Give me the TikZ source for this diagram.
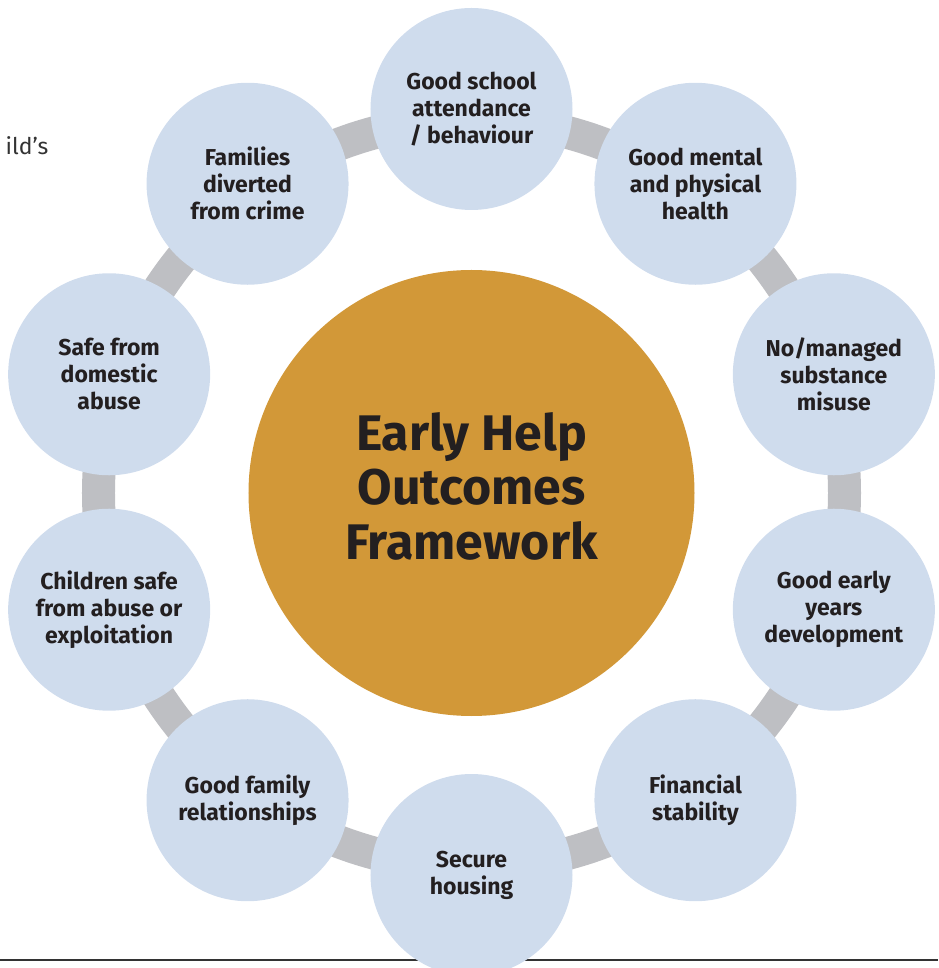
\documentclass[tikz,border=0pt]{standalone}
\usepackage{fontspec}
\setmainfont{Fira Sans}
\usepackage{tikz}
\usetikzlibrary{positioning}
\definecolor{outcome}{RGB}{207,220,237}
\definecolor{hub}{RGB}{210,152,56}
\definecolor{ringgrey}{RGB}{190,191,195}
\definecolor{inktext}{RGB}{35,31,32}
\tikzset{
  outcome/.style={circle,fill=outcome,minimum size=202pt,inner sep=0pt,align=center,
    text=inktext,font=\bfseries\fontsize{23}{27}\selectfont},
  hub/.style={circle,fill=hub,minimum size=446pt,inner sep=0pt},
  hubtext/.style={align=center,inner sep=0pt,text=inktext,font=\bfseries\fontsize{50}{54.5}\selectfont}
}

\begin{document}
\begin{tikzpicture}[x=1pt,y=1pt]
\useasboundingbox (-471.5,-476) rectangle (466.5,492);
%\node at (0,0) {centre of ring};
\draw[line width=2pt,color=black!80] (-471.5,-468) -- (466.5,-468);
\node[text=black!80,font=\fontsize{23}{27}\selectfont,anchor=east,inner sep=0pt] (cut) at (-423,346) {ild’s};

\node[hub] (frame) at (0,-1) {};
\node[hubtext] (title) at ([yshift=7pt]frame.center) {Early Help\\Outcomes\\Framework};
\draw[line width=33pt,draw=ringgrey] (frame.center) circle (373pt);

\node[outcome] (school) at (90:383) {Good school\\attendance\\/ behaviour};
\node[outcome] (mental) at (54:381) {Good mental\\and physical\\health};
\node[outcome] (substance) at (18:381) {No/managed\\substance\\misuse};
\node[outcome] (years) at (-18:381) {Good early\\years\\development};
\node[outcome] (money) at (-54:381) {Financial\\stability};
\node[outcome] (housing) at (-90:383) {Secure\\housing};
\node[outcome] (family) at (-126:381) {Good family\\relationships};
\node[outcome] (children) at (-162:381) {Children safe\\from abuse or\\exploitation};
\node[outcome] (domestic) at (162:381) {Safe from\\domestic\\abuse};
\node[outcome] (crime) at (126:381) {Families\\diverted\\from crime};
\end{tikzpicture}
\end{document}
